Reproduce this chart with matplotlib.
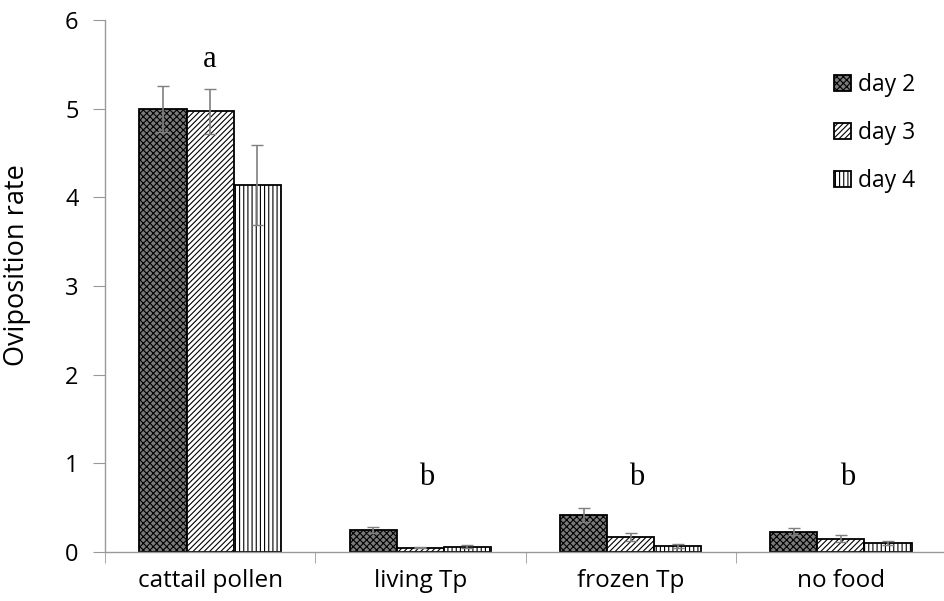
import matplotlib
matplotlib.use("Agg")
import matplotlib.pyplot as plt
import numpy as np

categories = ["cattail pollen", "living Tp", "frozen Tp", "no food"]
series = ["day 2", "day 3", "day 4"]
day2 = [5.00, 0.25, 0.42, 0.23]
day3 = [4.97, 0.05, 0.17, 0.15]
day4 = [4.14, 0.06, 0.07, 0.10]
err2 = [0.26, 0.03, 0.08, 0.04]
err3 = [0.25, 0.01, 0.05, 0.04]
err4 = [0.45, 0.02, 0.02, 0.02]
letters = ["a", "b", "b", "b"]
letter_y = [5.55, 0.835, 0.835, 0.835]

plt.rcParams['hatch.linewidth'] = 0.8
fig = plt.figure(figsize=(9.45, 6.01), dpi=100)
ax = fig.add_axes([0.1111, 0.0815, 0.890, 0.8852])

x = np.arange(len(categories))
w = 0.224
styles = [dict(facecolor="#7a7a7a", hatch="xxxxx"),
          dict(facecolor="white", hatch="//////"),
          dict(facecolor="white", hatch="||||")]
for i, (vals, errs, lab) in enumerate(zip([day2, day3, day4], [err2, err3, err4], series)):
    pos = x + (i - 1) * w
    ax.bar(pos, vals, width=w, edgecolor="black", linewidth=1.3, label=lab, **styles[i])
    ax.errorbar(pos, vals, yerr=errs, fmt="none", ecolor="#7f7f7f", elinewidth=1.2, capsize=4, capthick=1)

for xi, t, ty in zip(x, letters, letter_y):
    ax.text(xi + (0 if xi == 0 else 0.03), ty, t, ha="center", va="center",
            fontsize=22, family="Liberation Serif")

ax.set_xlim(-0.5, 3.5)
ax.set_ylim(0, 6)
ax.set_yticks(range(0, 7))
ax.set_xticks(x)
ax.set_xticklabels(categories, fontsize=17.5, family="Open Sans")
ax.tick_params(axis="x", length=0, pad=12)
ax.set_xticks([-0.5, 0.5, 1.5, 2.5], minor=True)
ax.tick_params(axis="x", which="minor", length=8, color="#999999", direction="out")
ax.tick_params(axis="y", labelsize=17, length=9, color="#999999", direction="out", pad=10)
for lbl in ax.get_yticklabels():
    lbl.set_family("Open Sans")
fig.text(17 / 945, 1 - 265 / 601, "Oviposition rate", rotation=90, ha="center", va="center",
         fontsize=19.5, family="Open Sans")
for s in ["top", "right"]:
    ax.spines[s].set_visible(False)
for s in ["left", "bottom"]:
    ax.spines[s].set_color("#999999")
    ax.spines[s].set_linewidth(1.0)

leg = ax.legend(loc="upper left", bbox_to_anchor=(0.853, 0.922), frameon=False,
                prop={"family": "Open Sans", "size": 16.5}, handlelength=0.75, handleheight=0.75,
                labelspacing=1.05, handletextpad=0.3, borderpad=0)
fig.savefig("out.png", dpi=100)
